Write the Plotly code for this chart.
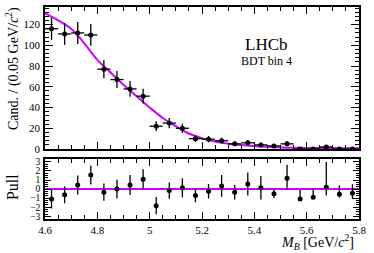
import numpy as np
import plotly.graph_objects as go

# ---- data ----
bin_centers = [4.625, 4.675, 4.725, 4.775, 4.825, 4.875, 4.925, 4.975,
               5.025, 5.075, 5.125, 5.175, 5.225, 5.275, 5.325, 5.375,
               5.425, 5.475, 5.525, 5.575, 5.625, 5.675, 5.725, 5.775]
counts = [116, 111, 112, 110, 77, 67, 58, 51,
          22, 25, 20, 10, 9.5, 8, 5, 6,
          4, 3, 5, 0, 0, 2, 0, 0]
bin_half_width = [0.025] * len(bin_centers)

fit_x = [4.60, 4.65, 4.70, 4.75, 4.80, 4.85, 4.90, 4.95, 5.00, 5.05,
         5.10, 5.15, 5.20, 5.25, 5.30, 5.35, 5.40, 5.45, 5.50, 5.55,
         5.60, 5.65, 5.70, 5.75, 5.80]
fit_y = [131, 124, 116, 102, 86, 74, 62, 51, 40, 30,
         22, 15, 10.5, 7.2, 5.2, 3.8, 2.8, 2.1, 1.6, 1.3,
         1.1, 1.0, 0.9, 0.8, 0.8]

pulls = [-1.1, -0.63, 0.46, 1.55, -0.34, 0.0, 0.46, 1.08,
         -1.83, -0.16, 0.16, -0.7, -0.23, 0.35, -0.34, 0.57,
         0.16, -0.52, 1.19, -1.1, -0.9, 0.2, -0.56, -0.45]
pull_err_up = [1.05, 0.93, 1.05, 1.05, 0.95, 1.03, 1.1, 1.1,
               0.95, 0.9, 1.05, 0.75, 0.8, 1.2, 0.8, 1.27,
               1.3, 0.45, 1.5, 1.0, 0.98, 2.8, 1.0, 1.0]
pull_err_down = [1.05, 0.93, 1.05, 1.05, 0.95, 1.03, 1.1, 1.1,
                 0.95, 0.9, 1.05, 0.75, 0.8, 1.2, 0.8, 1.27,
                 1.3, 0.45, 1.3, 0.0, 0.0, 0.9, 0.37, 0.65]
pull_line_x = [4.6, 5.8]
pull_line_y = [0, 0]

count_err = np.sqrt(np.array(counts, dtype=float))

FONT = "Times New Roman, Liberation Serif, DejaVu Serif, serif"
MAG = "#d000ff"

fig = go.Figure()

# main panel
fig.add_trace(go.Scatter(x=fit_x, y=fit_y, mode="lines", line=dict(color=MAG, width=2, shape="spline"),
                         xaxis="x2", yaxis="y2", hoverinfo="skip"))
fig.add_trace(go.Scatter(
    x=bin_centers, y=counts, mode="markers",
    marker=dict(color="black", size=5),
    error_y=dict(type="data", array=count_err, color="black", thickness=1.3, width=0),
    error_x=dict(type="data", array=bin_half_width, color="black", thickness=1.3, width=0),
    xaxis="x2", yaxis="y2"))

# pull panel
fig.add_trace(go.Scatter(x=pull_line_x, y=pull_line_y, mode="lines", line=dict(color=MAG, width=2),
                         xaxis="x", yaxis="y", hoverinfo="skip"))
fig.add_trace(go.Scatter(
    x=bin_centers, y=pulls, mode="markers",
    marker=dict(color="black", size=5),
    error_y=dict(type="data", symmetric=False, array=pull_err_up, arrayminus=pull_err_down,
                 color="black", thickness=1.3, width=0),
    xaxis="x", yaxis="y"))

axis_common = dict(showline=True, linecolor="black", linewidth=1.5, mirror="allticks",
                   ticks="inside", tickcolor="black", showgrid=False, zeroline=False)

fig.update_layout(
    width=374, height=253,
    margin=dict(l=44.5, r=15, t=5, b=33.5),
    paper_bgcolor="white", plot_bgcolor="white",
    showlegend=False,
    font=dict(family=FONT, color="black"),
    xaxis=dict(domain=[0, 1], range=[4.6, 5.8], anchor="y", tickmode="linear", tick0=4.6, dtick=0.2,
               ticklen=7, minor=dict(ticks="inside", dtick=0.05, ticklen=4, tickcolor="black"),
               tickfont=dict(family=FONT, size=11, color="black"),
               **axis_common),
    yaxis=dict(domain=[0, 0.282], range=[-3.3, 3.3], anchor="x", tickmode="linear", tick0=0, dtick=1,
               ticklen=6, minor=dict(ticks="inside", dtick=0.25, ticklen=3, tickcolor="black"),
               tickfont=dict(family=FONT, size=9.5, color="black"),
               ticklabelstandoff=1, **axis_common),
    xaxis2=dict(domain=[0, 1], range=[4.6, 5.8], anchor="y2", matches="x", tickmode="linear", tick0=4.6,
                dtick=0.2, ticklen=7, showticklabels=False,
                minor=dict(ticks="inside", dtick=0.05, ticklen=4, tickcolor="black"),
                **axis_common),
    yaxis2=dict(domain=[0.330, 1], range=[0, 137], anchor="x2", tickmode="linear", tick0=0, dtick=20,
                ticklen=8, minor=dict(ticks="inside", dtick=4, ticklen=4, tickcolor="black"),
                tickfont=dict(family=FONT, size=11, color="black"),
                ticklabelstandoff=1, **axis_common),
    annotations=[
        dict(text="LHCb", x=0.704, y=0.823, xref="paper", yref="paper", showarrow=False,
             font=dict(family=FONT, size=17, color="black"), xanchor="center", yanchor="middle"),
        dict(text="BDT bin 4", x=0.704, y=0.744, xref="paper", yref="paper", showarrow=False,
             font=dict(family=FONT, size=12, color="black"), xanchor="center", yanchor="middle"),
        dict(text="Cand. / (0.05 GeV/<i>c</i><sup>2</sup>)", x=-0.103, y=1.01, xref="paper", yref="paper",
             showarrow=False, textangle=-90, font=dict(family=FONT, size=14, color="black"),
             xanchor="center", yanchor="top"),
        dict(text="Pull", x=-0.103, y=0.149, xref="paper", yref="paper",
             showarrow=False, textangle=-90, font=dict(family=FONT, size=16, color="black"),
             xanchor="center", yanchor="middle"),
        dict(text="<i>M</i><sub><i>B</i></sub> [GeV/<i>c</i><sup>2</sup>]", x=0.99, y=-0.108,
             xref="paper", yref="paper", showarrow=False,
             font=dict(family=FONT, size=14, color="black"), xanchor="right", yanchor="middle"),
    ],
)

fig.write_html("out.html", config={"displayModeBar": False},
               post_script="document.body.style.margin='0';document.body.style.padding='0';")
